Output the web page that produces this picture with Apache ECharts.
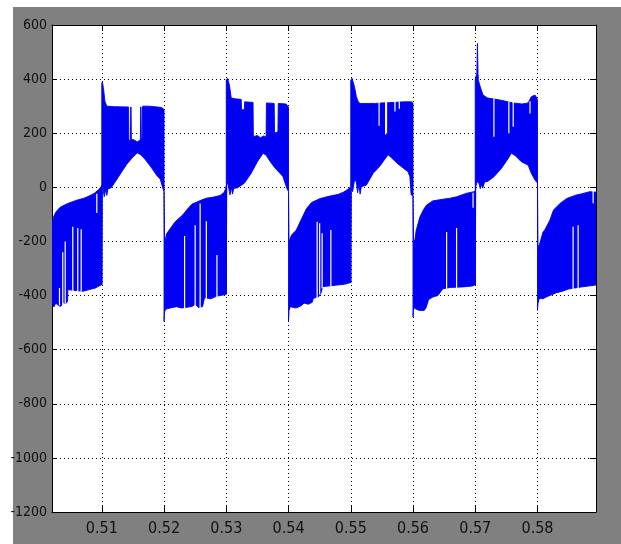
<!DOCTYPE html>
<html><head><meta charset="utf-8">
<script src="https://cdn.jsdelivr.net/npm/echarts@6/dist/echarts.min.js"></script>
<style>
html,body{margin:0;padding:0;background:#fff;width:621px;height:544px;overflow:hidden}
#bg{position:absolute;left:13px;top:7px;width:608px;height:537px;background:#808080}
#chart{position:absolute;left:0;top:0;width:621px;height:544px}
</style></head><body><div id="bg"></div><div id="chart"></div>
<script>
const xTicks = [0.51, 0.52, 0.53, 0.54, 0.55, 0.56, 0.57, 0.58];
const xLabels = ['0.51', '0.52', '0.53', '0.54', '0.55', '0.56', '0.57', '0.58'];

// negative half-cycle 0 (upper / lower envelope) [time, volts]
const n0Upper = [[0.5020,-148],[0.5022,-112],[0.5026,-92],[0.5029,-84],[0.5033,-74],[0.5037,-69],[0.5045,-60],[0.5053,-53],[0.5062,-46],[0.5070,-41],[0.5075,-37],[0.5083,-28],[0.5088,-22],[0.5095,-8],[0.5099,2],[0.5100,8]];
const n0Lower = [[0.5020,-430],[0.5023,-442],[0.5026,-428],[0.5030,-436],[0.5034,-440],[0.5038,-426],[0.5042,-430],[0.5045,-422],[0.50455,-378],[0.5060,-382],[0.5070,-384],[0.5080,-378],[0.5090,-372],[0.5096,-364],[0.5100,-360]];

const p1Upper = [[0.5100,385],[0.5101,390],[0.5103,360],[0.5105,318],[0.5108,300],[0.5120,298],[0.5143,297],[0.51435,175],[0.5146,172],[0.51465,297],[0.5147,297],[0.51475,178],[0.5152,175],[0.5157,168],[0.5162,176],[0.51625,297],[0.5163,297],[0.51635,180],[0.5165,182],[0.51655,300],[0.5175,300],[0.5185,298],[0.5196,295],[0.5199,290],[0.5200,285]];
const p1Lower = [[0.5100,-360],[0.51008,15],[0.5103,-22],[0.5104,-35],[0.5106,-8],[0.5108,-30],[0.5110,-5],[0.5115,-2],[0.5120,15],[0.5130,50],[0.5140,85],[0.5150,112],[0.5157,127],[0.5163,120],[0.5170,102],[0.5180,72],[0.5188,45],[0.5194,30],[0.5197,5],[0.5199,-10],[0.5200,-15]];

const n1Upper = [[0.5200,-15],[0.52008,-200],[0.5202,-195],[0.5204,-172],[0.5212,-146],[0.5218,-127],[0.5230,-102],[0.5237,-82],[0.5245,-62],[0.5252,-55],[0.5260,-47],[0.5268,-40],[0.5280,-36],[0.5290,-30],[0.5296,-20],[0.5299,-5],[0.5300,5]];
const n1Lower = [[0.5200,-495],[0.52008,-460],[0.5203,-450],[0.5210,-446],[0.5220,-441],[0.5228,-446],[0.5235,-444],[0.5245,-440],[0.5250,-432],[0.5256,-445],[0.5262,-440],[0.5265,-408],[0.5275,-412],[0.5285,-402],[0.5295,-398],[0.5300,-395]];

const p2Upper = [[0.5300,398],[0.5302,403],[0.5305,378],[0.5308,330],[0.5315,327],[0.5324,325],[0.53245,288],[0.5329,286],[0.53295,316],[0.5343,314],[0.53435,187],[0.5350,192],[0.5355,183],[0.5360,190],[0.5364,186],[0.53645,312],[0.5377,310],[0.53775,200],[0.5383,205],[0.53835,310],[0.5396,308],[0.5399,300],[0.5400,295]];
const p2Lower = [[0.5300,-395],[0.53008,15],[0.5303,10],[0.5306,-28],[0.5308,0],[0.5310,-25],[0.5312,-4],[0.5318,-2],[0.5329,15],[0.5340,52],[0.5350,95],[0.5359,126],[0.5364,119],[0.5370,97],[0.5378,72],[0.5385,55],[0.5391,40],[0.5395,12],[0.5398,-8],[0.5400,-15]];

const n2Upper = [[0.5400,-15],[0.54008,-200],[0.5405,-176],[0.54125,-158],[0.5420,-121],[0.5429,-78],[0.5437,-56],[0.5450,-42],[0.5465,-33],[0.5480,-26],[0.5488,-18],[0.5495,-8],[0.5500,2]];
const n2Lower = [[0.5400,-495],[0.54008,-455],[0.5403,-441],[0.5412,-446],[0.5420,-438],[0.5425,-428],[0.5432,-432],[0.5438,-425],[0.5440,-410],[0.5448,-405],[0.5452,-392],[0.5455,-367],[0.5475,-362],[0.5490,-358],[0.5500,-352]];

const p3Upper = [[0.5500,395],[0.5502,403],[0.5506,372],[0.5509,335],[0.5512,316],[0.5515,310],[0.5540,310],[0.5550,312],[0.5570,314],[0.5585,316],[0.5598,316],[0.5600,310]];
const p3Lower = [[0.5500,-352],[0.55008,20],[0.5503,-16],[0.5506,27],[0.5509,20],[0.5511,-20],[0.5513,10],[0.5515,-25],[0.5517,2],[0.5525,8],[0.5536,52],[0.5546,76],[0.5555,105],[0.5560,120],[0.5565,110],[0.5575,88],[0.5585,70],[0.5592,58],[0.5595,39],[0.5597,-28],[0.5600,-30]];

const n3Upper = [[0.5600,-30],[0.56008,-200],[0.5603,-195],[0.5605,-160],[0.5611,-110],[0.5617,-82],[0.5622,-65],[0.5632,-50],[0.5648,-44],[0.5660,-40],[0.5670,-35],[0.5686,-22],[0.5694,-18],[0.5700,-15]];
const n3Lower = [[0.5600,-480],[0.56008,-445],[0.5605,-450],[0.5610,-455],[0.5618,-455],[0.5621,-445],[0.5625,-415],[0.5632,-405],[0.5640,-400],[0.5648,-375],[0.5660,-370],[0.5680,-368],[0.5695,-365],[0.5700,-360]];

const p4Upper = [[0.5700,400],[0.57025,420],[0.57035,532],[0.57045,420],[0.5705,396],[0.5708,372],[0.57125,341],[0.5720,330],[0.5737,324],[0.5753,316],[0.5760,312],[0.5769,310],[0.5775,308],[0.5785,312],[0.5790,335],[0.5796,341],[0.5799,330],[0.5800,320]];
const p4Lower = [[0.5700,-360],[0.57008,2],[0.5703,21],[0.5706,15],[0.5708,-5],[0.5710,10],[0.5712,-3],[0.5715,20],[0.5720,22],[0.5730,39],[0.5742,70],[0.5753,107],[0.5758,126],[0.5764,118],[0.5774,95],[0.5785,82],[0.5790,52],[0.5796,27],[0.5799,18],[0.5800,20]];

const n4Upper = [[0.5800,20],[0.58008,-218],[0.5803,-213],[0.5809,-164],[0.58117,-158],[0.5820,-121],[0.58257,-84],[0.58365,-59],[0.5847,-41],[0.58627,-28],[0.5871,-24],[0.5884,-16],[0.5894,-18]];
const n4Lower = [[0.5800,-455],[0.58008,-430],[0.5803,-410],[0.5809,-412],[0.5815,-404],[0.5822,-398],[0.5830,-390],[0.5840,-384],[0.5850,-376],[0.5860,-372],[0.5871,-368],[0.5894,-361]];

// gaps inside the switching band: [time, from, to]
const gaps = [
  [0.5032,-372,-436],[0.50373,-240,-440],[0.50412,-200,-430],[0.50534,-146,-386],[0.50614,-150,-386],[0.50669,-155,-386],[0.5092,-24,-95],
  [0.5233,-180,-446],[0.5250,-140,-436],[0.5258,-60,-446],[0.5268,-125,-416],[0.5285,-250,-406],
  [0.5446,-127,-410],[0.5450,-133,-396],[0.5454,-170,-374],[0.5468,-158,-366],
  [0.55455,318,228],[0.5556,318,195],[0.55575,318,200],[0.5571,318,280],[0.5578,318,290],
  [0.5654,-165,-375],[0.5670,-150,-373],[0.56965,-20,-75],
  [0.5730,328,187],[0.5754,318,200],[0.5761,315,224],[0.5788,318,273],
  [0.58572,-146,-378],[0.58653,-140,-375],[0.58894,-12,-59]
];

const segments = [[n0Upper,n0Lower],[p1Upper,p1Lower],[n1Upper,n1Lower],[p2Upper,p2Lower],[n2Upper,n2Lower],[p3Upper,p3Lower],[n3Upper,n3Lower],[p4Upper,p4Lower],[n4Upper,n4Lower]];

const X_MIN = 0.502, X_MAX = 0.5894;
const BLUE = '#0000f2';
const font = '"Liberation Sans Narrow", "DejaVu Sans Condensed", "Liberation Sans", Arial, sans-serif';
const xFmt = v => { const i = xTicks.findIndex(t => Math.abs(t - v) < 1e-9); return i >= 0 ? xLabels[i] : ''; };
const yFmt = v => String(Math.round(v));

const chart = echarts.init(document.getElementById('chart'), null, {renderer: 'canvas'});
chart.setOption({
  animation: false,
  backgroundColor: 'transparent',
  grid: {left: 52, top: 25, right: 25, bottom: 32, show: true, backgroundColor: '#ffffff', borderWidth: 0, containLabel: false, outerBoundsMode: 'none'},
  xAxis: [
    {type: 'value', position: 'bottom', min: X_MIN, max: X_MAX,
     axisLine: {show: true, onZero: false, lineStyle: {color: '#000', width: 1}},
     axisTick: {show: true, inside: true, length: 7, customValues: xTicks, lineStyle: {color: '#000'}},
     axisLabel: {show: true, customValues: xTicks, formatter: xFmt, color: '#111', fontFamily: font, fontSize: 16, margin: 9},
     splitLine: {show: true, lineStyle: {color: '#000', width: 1, type: [1, 3]}}},
    {type: 'value', position: 'top', min: X_MIN, max: X_MAX,
     axisLine: {show: true, onZero: false, lineStyle: {color: '#000', width: 1}},
     axisTick: {show: true, inside: true, length: 6, customValues: xTicks, lineStyle: {color: '#000'}},
     axisLabel: {show: false}, splitLine: {show: false}}
  ],
  yAxis: [
    {type: 'value', position: 'left', min: -1200, max: 600, interval: 200,
     axisLine: {show: true, onZero: false, lineStyle: {color: '#000', width: 1}},
     axisTick: {show: true, inside: true, length: 5, lineStyle: {color: '#000'}},
     axisLabel: {show: true, formatter: yFmt, color: '#111', fontFamily: font, fontSize: 14, margin: 5},
     splitLine: {show: true, lineStyle: {color: '#000', width: 1, type: [1, 3]}}},
    {type: 'value', position: 'right', min: -1200, max: 600, interval: 200,
     axisLine: {show: true, onZero: false, lineStyle: {color: '#000', width: 1}},
     axisTick: {show: true, inside: true, length: 6, lineStyle: {color: '#000'}},
     axisLabel: {show: false}, splitLine: {show: false}}
  ],
  series: [
    {type: 'custom', coordinateSystem: 'cartesian2d', xAxisIndex: 0, yAxisIndex: 0, clip: true, silent: true,
     data: segments.map((s, i) => [s[0][0][0], s[0][0][1], i]),
     encode: {x: 0, y: 1},
     renderItem: (params, api) => {
       const seg = segments[params.dataIndex];
       const pts = seg[0].map(p => api.coord(p)).concat(seg[1].slice().reverse().map(p => api.coord(p)));
       return {type: 'polygon', shape: {points: pts}, style: {fill: BLUE, stroke: BLUE, lineWidth: 0.9}};
     }},
    {type: 'custom', coordinateSystem: 'cartesian2d', xAxisIndex: 0, yAxisIndex: 0, clip: true, silent: true, z: 3,
     data: gaps,
     encode: {x: 0, y: 1},
     renderItem: (params, api) => {
       const a = api.coord([api.value(0), api.value(1)]);
       const b = api.coord([api.value(0), api.value(2)]);
       return {type: 'line', shape: {x1: a[0], y1: a[1], x2: b[0], y2: b[1]}, style: {stroke: '#ffffff', lineWidth: 1.2}};
     }}
  ]
});
</script></body></html>
